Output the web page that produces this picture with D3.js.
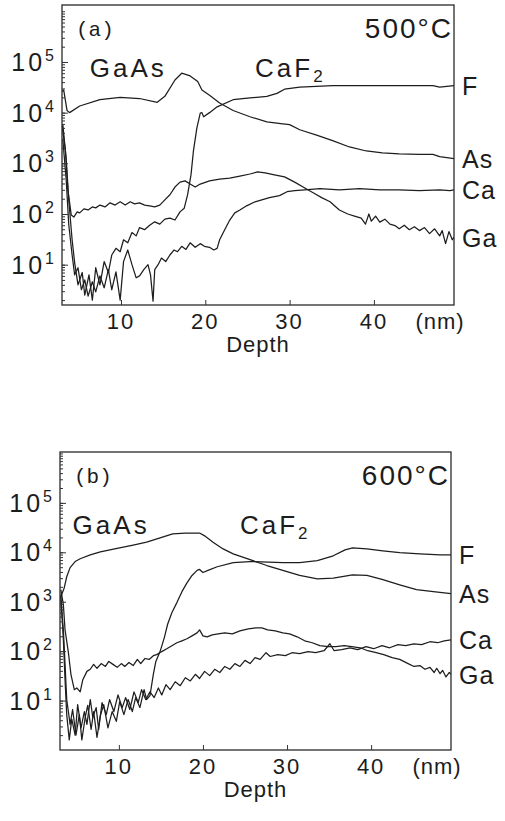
<!DOCTYPE html>
<html>
<head>
<meta charset="utf-8">
<script src="https://cdn.jsdelivr.net/npm/d3@7"></script>
<style>
	html, body { margin: 0; padding: 0; background: #fff; }
	svg { display: block; }
	text { font-family: "Liberation Sans", Arial, sans-serif; fill: #1c1c1c; }
</style>
</head>
<body>
<div id="chart"></div>
<script>

// DATA  ( [depth nm, counts] )

const depthTicks = [10, 20, 30, 40],
			decades = [1e1, 1e2, 1e3, 1e4, 1e5],
			seriesNames = ['F', 'As', 'Ca', 'Ga'];

const a_F = [
	[3.1,5.8e3],[3.5,1.2e3],[3.8,190],[4.2,31],[4.5,11],[4.9,4],[5.4,7],[5.7,2.5],[6.2,6.3],[6.6,2],[7.0,8.7],[7.5,4],
	[8.0,11.5],[8.5,7],[8.9,15.5],[9.4,21],[9.9,18],[10.3,31],[10.8,27],[11.3,43],[11.8,37],[12.2,54],[12.8,49],[13.4,60],
	[14.0,70],[14.6,63],[15.2,79],[15.8,83],[16.4,76],[17.0,110],[17.5,130],[17.9,240],[18.3,590],[18.6,1.8e3],[19.0,5e3],
	[19.4,9.8e3],[19.6,1.0e4],[19.8,8.3e3],[20.5,1.0e4],[21.4,1.3e4],[23.3,1.8e4],[25.3,1.95e4],[27.3,2.1e4],[28.5,2.4e4],
	[29.4,2.9e4],[31.2,3.2e4],[35.1,3.4e4],[43.0,3.4e4],[47.0,3.4e4],[47.8,3.2e4],[49.5,3.4e4]
];

const a_As = [
	[3.0,2.6e4],[3.2,2.8e4],[3.6,1.1e4],[3.9,1.0e4],[5.1,1.35e4],[7.5,1.8e4],[9.9,2.0e4],[12.2,1.9e4],[14.3,1.6e4],
	[15.2,2.1e4],[16.4,4.4e4],[17.2,6.0e4],[18.2,5.3e4],[19.1,4.1e4],[19.6,2.8e4],[20.5,2.2e4],[21.7,1.55e4],[23.3,1.1e4],
	[25.3,8.3e3],[27.3,6.6e3],[29.2,6.0e3],[30.0,5.8e3],[31.2,4.6e3],[33.2,3.6e3],[35.1,2.8e3],[37.1,2.1e3],[39.1,1.75e3],
	[41.0,1.6e3],[43.0,1.53e3],[45.4,1.5e3],[47.0,1.5e3],[47.8,1.35e3],[49.5,1.23e3]
];

const a_Ca = [
	[3.1,2.9e3],[3.5,470],[3.8,62],[4.2,15.5],[4.5,6.3],[4.9,8.7],[5.3,3.2],[5.7,5],[6.1,2.4],[6.6,4.6],[7.0,2.9],[7.5,6],
	[8.0,3.5],[8.5,8],[8.9,3.2],[9.4,7.2],[9.9,2],[10.3,11.5],[10.8,19.5],[11.3,10],[11.8,5.5],[12.2,6],[12.7,8],[13.2,10],
	[13.5,6.3],[13.8,1.9],[14.0,8],[14.4,10],[14.8,13.5],[15.3,11.5],[15.8,15.5],[16.3,19.5],[16.7,18],[17.2,23],[17.7,20],
	[18.2,27],[18.8,22],[19.4,26],[19.9,23],[20.5,22],[21.0,19.5],[21.4,21],[21.7,31],[22.3,49],[22.9,76],[23.5,105],
	[24.1,120],[24.9,145],[25.9,174],[26.7,190],[27.6,210],[28.8,230],[29.7,275],[30.6,290],[31.8,300],[33.6,316],
	[35.9,300],[38.3,316],[40.7,300],[43.0,300],[45.4,290],[47.8,300],[49.0,290],[49.5,300]
];

const a_Ga = [
	[3.0,5.8e3],[3.4,1.8e3],[3.7,300],[4.1,95],[4.4,87],[4.8,110],[5.1,105],[5.6,126],[6.1,120],[6.6,138],[7.0,132],
	[7.5,150],[8.1,138],[8.7,166],[9.3,150],[9.9,174],[10.5,150],[11.1,174],[11.6,158],[12.2,166],[12.8,150],[13.4,145],
	[14.0,138],[14.6,150],[15.2,190],[15.8,240],[16.4,340],[17.0,425],[17.6,450],[18.2,390],[18.8,340],[19.4,390],
	[20.5,450],[21.7,490],[22.9,510],[24.1,560],[25.3,615],[26.2,675],[27.1,645],[28.2,590],[29.4,540],[30.6,425],
	[31.8,325],[33.0,250],[33.8,210],[34.8,174],[35.9,120],[36.9,100],[37.7,91],[38.5,83],[39.0,63],[39.4,100],[39.7,72],
	[40.2,91],[40.7,69],[41.3,79],[41.9,63],[42.5,59],[43.0,51],[43.6,60],[44.2,49],[44.8,56],[45.4,47],[46.0,54],
	[46.6,41],[47.2,51],[47.8,37],[48.1,47],[48.5,26],[48.9,45],[49.3,31],[49.5,35]
];

const b_F = [
	[3.1,1.1e3],[3.4,270],[3.6,54],[3.8,10.5],[4.2,3.3],[4.5,6.6],[4.9,2],[5.3,5.2],[5.6,1.6],[6.0,4.6],[6.3,8],[6.7,2.6],
	[7.0,6],[7.4,1.8],[7.8,5],[8.2,8.3],[8.7,2.8],[9.2,6],[9.7,3.8],[10.1,9.5],[10.6,5.2],[11.1,10.5],[11.6,6],[12.0,11.5],
	[12.5,7.2],[13.0,16.6],[13.3,10.5],[13.7,12.6],[14.1,34],[14.4,62],[14.9,98],[15.4,186],[15.8,350],[16.3,600],
	[16.9,960],[17.5,1.6e3],[18.1,2.4e3],[18.7,3.4e3],[19.3,4.3e3],[19.6,4.5e3],[20.0,3.9e3],[20.6,4.3e3],[21.7,5.1e3],
	[23.6,6.2e3],[25.6,6.5e3],[29.5,6.2e3],[31.5,6.2e3],[33.6,6.8e3],[35.5,8.5e3],[36.9,1.12e4],[37.8,1.23e4],
	[39.5,1.17e4],[41.4,1.07e4],[43.4,9.8e3],[45.8,9.3e3],[48.2,8.9e3],[49.5,8.9e3]
];

const b_As = [
	[3.0,1.1e3],[3.2,1.4e3],[3.5,1.9e3],[3.8,3.2e3],[4.2,4.9e3],[4.8,6.5e3],[5.4,7.4e3],[6.6,8.9e3],[7.8,1.02e4],
	[9.5,1.17e4],[11.7,1.4e4],[13.3,1.6e4],[14.9,1.95e4],[16.4,2.35e4],[17.9,2.45e4],[19.6,2.45e4],[20.2,2.15e4],
	[21.2,1.6e4],[22.4,1.17e4],[23.6,9.3e3],[25.6,7.1e3],[27.6,5.4e3],[29.5,4.3e3],[31.5,3.4e3],[33.6,2.9e3],[35.5,3.0e3],
	[37.8,3.5e3],[39.5,3.4e3],[41.4,2.8e3],[43.4,2.2e3],[45.4,1.75e3],[47.4,1.6e3],[49.5,1.45e3]
];

const b_Ca = [
	[3.1,1.4e3],[3.4,170],[3.6,26],[3.8,5.2],[4.1,1.6],[4.4,4.2],[4.8,2],[5.1,8.3],[5.5,2.8],[5.9,6],[6.2,3.3],[6.6,10.5],
	[6.9,4.6],[7.3,7.2],[7.6,2.6],[8.0,9.1],[8.5,5.2],[8.9,10.5],[9.4,6],[9.9,13],[10.4,7.2],[10.8,11.5],[11.3,6.6],
	[11.8,15],[12.3,9.1],[12.7,16.6],[13.2,10.5],[13.7,15],[14.2,11.5],[14.7,18],[15.1,13],[15.6,21],[16.1,16.6],[16.7,24],
	[17.3,20],[17.9,29],[18.5,25],[19.1,34],[19.6,28],[20.2,39],[20.8,32],[21.4,43],[22.0,37],[22.6,49],[23.2,43],[23.8,56],
	[24.4,49],[25.0,65],[25.6,56],[26.2,74],[26.8,68],[27.5,93],[28.0,78],[28.9,85],[29.8,81],[30.6,93],[31.5,89],[32.5,98],
	[33.4,93],[34.4,102],[35.1,141],[35.6,102],[36.5,107],[37.5,117],[38.4,107],[39.4,123],[40.3,112],[41.3,129],
	[42.2,117],[43.2,135],[44.1,129],[45.1,141],[46.0,135],[47.0,155],[47.9,148],[48.7,162],[49.5,170]
];

const b_Ga = [
	[3.1,1.75e3],[3.4,870],[3.6,270],[4.0,93],[4.3,34],[4.7,16.6],[5.0,18],[5.4,15],[5.7,26],[6.2,39],[6.6,43],[7.0,54],
	[7.4,45],[7.9,56],[8.4,49],[8.8,62],[9.3,54],[9.8,47],[10.3,56],[10.7,49],[11.2,59],[11.7,51],[12.2,68],[12.6,56],
	[13.1,71],[13.6,68],[14.1,81],[14.5,85],[15.1,98],[15.7,112],[16.3,129],[16.9,148],[17.5,162],[18.1,178],[18.7,204],
	[19.3,234],[19.6,270],[20.0,204],[20.5,195],[21.1,214],[21.8,224],[22.6,234],[23.5,224],[24.4,257],[25.4,282],
	[26.3,295],[27.0,295],[27.7,270],[28.6,257],[29.5,234],[30.3,224],[31.2,195],[32.1,162],[33.0,148],[33.9,129],
	[34.9,123],[35.8,123],[36.8,129],[37.7,123],[38.7,117],[39.6,102],[40.6,93],[41.5,85],[42.5,74],[43.4,68],[44.4,56],
	[45.1,49],[45.8,51],[46.4,43],[47.0,47],[47.5,37],[47.8,45],[48.2,35],[48.5,41],[48.9,30],[49.3,37],[49.5,34]
];

const depthDomain = [3, 49.5];

// LAYOUT

const width = 505, height = 821;

const panels = [
	{ tag: '(a)', temp: '500°C', series: [a_F, a_As, a_Ca, a_Ga], yDomain: [1.6, 1.33e6],
		left: 62, right: 454, top: 5, bottom: 305, gaasAt: [6.3, 25.9, 7.6e4] },
	{ tag: '(b)', temp: '600°C', series: [b_F, b_As, b_Ca, b_Ga], yDomain: [1.0, 1.07e6],
		left: 60, right: 451, top: 452, bottom: 750, gaasAt: [4.5, 24.4, 3.6e4] }
];

const svg = d3.select('#chart')
	.append('svg')
	.attr('width', width)
	.attr('height', height);

const drawPanel = (p, i) => {

	const x = d3.scaleLinear().domain(depthDomain).range([p.left, p.right]),
				y = d3.scaleLog().domain(p.yDomain).range([p.bottom, p.top]);

	const g = svg.append('g');

	g.append('clipPath')
		.attr('id', 'clip' + i)
		.append('rect')
		.attr('x', p.left)
		.attr('y', p.top)
		.attr('width', p.right - p.left)
		.attr('height', p.bottom - p.top);

	const line = d3.line()
		.x(d => x(d[0]))
		.y(d => y(d[1]));

	g.append('g')
		.attr('clip-path', `url(#clip${i})`)
		.selectAll('path')
		.data(p.series)
		.join('path')
		.attr('d', line)
		.attr('fill', 'none')
		.attr('stroke', '#1e1e1e')
		.attr('stroke-width', 1.25)
		.attr('stroke-linejoin', 'round');

	// frame
	g.append('rect')
		.attr('x', p.left)
		.attr('y', p.top)
		.attr('width', p.right - p.left)
		.attr('height', p.bottom - p.top)
		.attr('fill', 'none')
		.attr('stroke', '#2a2a2a')
		.attr('stroke-width', 1.3);

	// inward ticks on the left
	const minor = y.ticks().filter(v => v > p.yDomain[0]);
	g.append('g')
		.attr('transform', `translate(${p.left},0)`)
		.call(d3.axisRight(y).tickValues(minor).tickSize(3).tickFormat(''))
		.call(a => a.select('.domain').remove())
		.selectAll('line').attr('stroke', '#333');

	g.append('g')
		.attr('transform', `translate(${p.left},0)`)
		.call(d3.axisRight(y).tickValues(decades).tickSize(6).tickFormat(''))
		.call(a => a.select('.domain').remove())
		.selectAll('line').attr('stroke', '#333');

	// inward ticks on the bottom
	g.append('g')
		.attr('transform', `translate(0,${p.bottom})`)
		.call(d3.axisTop(x).tickValues(depthTicks).tickSize(5).tickFormat(''))
		.call(a => a.select('.domain').remove())
		.selectAll('line').attr('stroke', '#333');

	// y labels 10^n
	const yl = g.selectAll('.ylab')
		.data(decades)
		.join('text')
		.attr('class', 'ylab')
		.attr('x', p.left - 5)
		.attr('y', d => y(d) + 9)
		.attr('text-anchor', 'end')
		.style('font-size', '25px')
		.style('letter-spacing', '3px');
	yl.append('tspan').text('10');
	yl.append('tspan')
		.attr('dy', -10)
		.style('font-size', '16px')
		.text(d => Math.round(Math.log10(d)));

	// x labels
	g.selectAll('.xlab')
		.data(depthTicks)
		.join('text')
		.attr('class', 'xlab')
		.attr('x', d => x(d))
		.attr('y', p.bottom + 24)
		.attr('text-anchor', 'middle')
		.style('font-size', '22px')
		.style('letter-spacing', '2px')
		.text(d => d);

	g.append('text')
		.attr('x', p.right - 14)
		.attr('y', p.bottom + 24)
		.attr('text-anchor', 'middle')
		.style('font-size', '22px')
		.style('letter-spacing', '1px')
		.text('(nm)');

	g.append('text')
		.attr('x', (p.left + p.right) / 2)
		.attr('y', p.bottom + 47)
		.attr('text-anchor', 'middle')
		.style('font-size', '22px')
		.style('letter-spacing', '1px')
		.text('Depth');

	// series names at the right end
	g.selectAll('.sname')
		.data(p.series)
		.join('text')
		.attr('class', 'sname')
		.attr('x', p.right + 8)
		.attr('y', d => y(d[d.length - 1][1]) + 3)
		.attr('dominant-baseline', 'middle')
		.style('font-size', '25px')
		.style('letter-spacing', '1px')
		.text((d, j) => seriesNames[j]);

	// in-panel annotations
	g.append('text')
		.attr('x', p.left + 14)
		.attr('y', p.top + 31)
		.style('font-family', '"Liberation Mono", "DejaVu Sans Mono", monospace')
		.style('font-size', '21px')
		.text(p.tag);

	g.append('text')
		.attr('x', p.right - 1)
		.attr('y', p.top + 33)
		.attr('text-anchor', 'end')
		.style('font-size', '28px')
		.style('letter-spacing', '2px')
		.text(p.temp);

	g.append('text')
		.attr('x', x(p.gaasAt[0]))
		.attr('y', y(p.gaasAt[2]) + 9)
		.style('font-size', '26px')
		.style('letter-spacing', '3px')
		.text('GaAs');

	const caf = g.append('text')
		.attr('x', x(p.gaasAt[1]))
		.attr('y', y(p.gaasAt[2]) + 9)
		.style('font-size', '26px')
		.style('letter-spacing', '3px');
	caf.append('tspan').text('CaF');
	caf.append('tspan')
		.attr('dy', 5)
		.style('font-size', '17px')
		.text('2');

}

panels.forEach(drawPanel);

</script>
</body>
</html>
